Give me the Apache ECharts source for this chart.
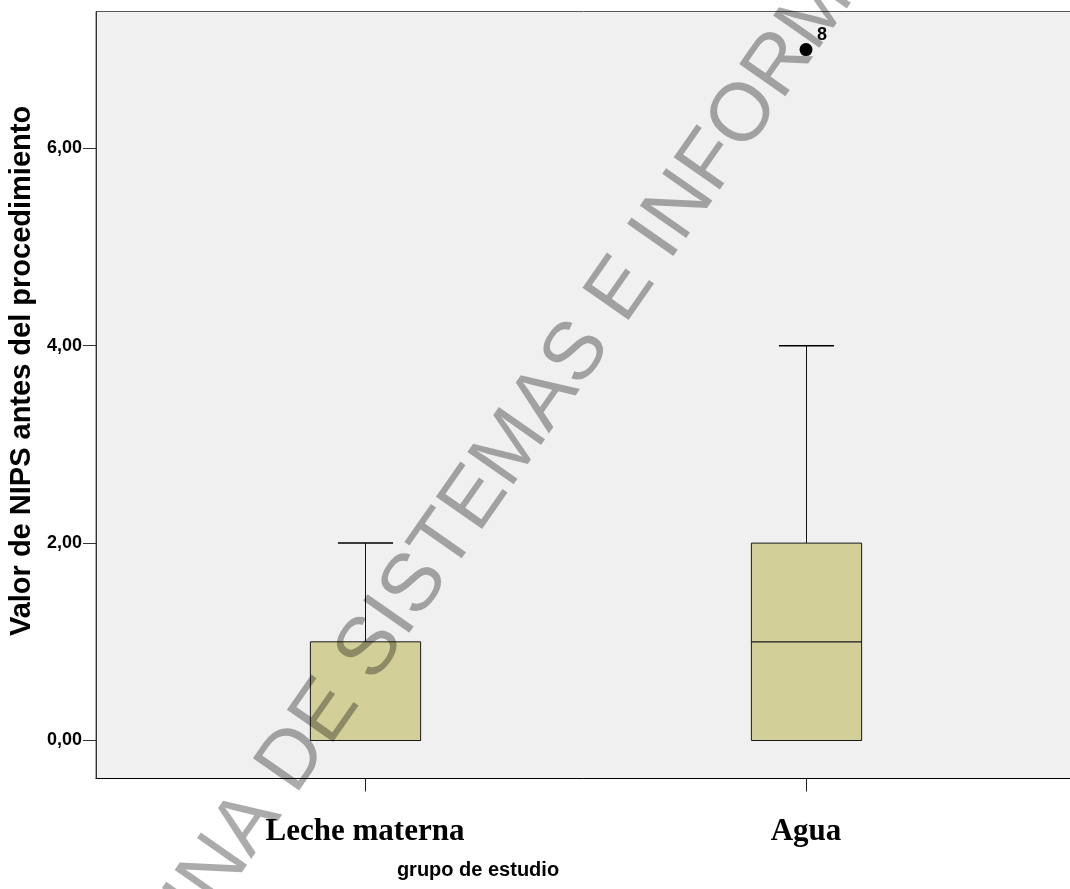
<!DOCTYPE html>
<html>
<head>
<meta charset="utf-8">
<script src="https://cdn.jsdelivr.net/npm/echarts@6/dist/echarts.min.js"></script>
<style>
  html, body { margin: 0; padding: 0; background: #ffffff; }
  #chart { width: 1070px; height: 889px; }
</style>
</head>
<body>
<div id="chart"></div>
<script>
// Study groups and their box-plot summaries (NIPS score before the procedure)
const categories = ['Leche materna', 'Agua'];
const lowWhisker = [0, 0];
const q1 = [0, 0];
const median = [0, 1];
const q3 = [1, 2];
const highWhisker = [2, 4];

// Extreme values plotted individually, with their case number
const outlierGroup = [1];
const outlierValue = [7];
const outlierCase = ['8'];

// Y axis ticks
const yTicks = [0, 2, 4, 6];

const boxRows = categories.map((c, i) => [i, lowWhisker[i], q1[i], median[i], q3[i], highWhisker[i]]);
const outlierRows = outlierGroup.map((g, i) => ({ value: [g, outlierValue[i]], caseId: outlierCase[i] }));

const chart = echarts.init(document.getElementById('chart'), null, { renderer: 'canvas' });

function renderBox(params, api) {
  const x = api.value(0);
  const lo = api.coord([x, api.value(1)]);
  const b1 = api.coord([x, api.value(2)]);
  const md = api.coord([x, api.value(3)]);
  const b3 = api.coord([x, api.value(4)]);
  const hi = api.coord([x, api.value(5)]);
  const w = api.size([0.25, 0])[0];
  const cap = w / 2;
  const cx = Math.round(b1[0]) + 0.5;
  const children = [];
  const lineStyle = { stroke: '#111111', lineWidth: 1 };
  if (hi[1] < b3[1] - 0.5) {
    children.push({ type: 'line', shape: { x1: cx, y1: b3[1], x2: cx, y2: hi[1] }, style: lineStyle });
    children.push({ type: 'line', shape: { x1: cx - cap / 2, y1: hi[1], x2: cx + cap / 2, y2: hi[1] }, style: { stroke: '#000', lineWidth: 1.5 } });
  }
  if (lo[1] > b1[1] + 0.5) {
    children.push({ type: 'line', shape: { x1: cx, y1: b1[1], x2: cx, y2: lo[1] }, style: lineStyle });
    children.push({ type: 'line', shape: { x1: cx - cap / 2, y1: lo[1], x2: cx + cap / 2, y2: lo[1] }, style: { stroke: '#000', lineWidth: 1.5 } });
  }
  children.push({
    type: 'rect',
    shape: { x: cx - w / 2, y: b3[1], width: w, height: b1[1] - b3[1] },
    style: { fill: '#d3cf98', stroke: '#1a1a1a', lineWidth: 1 }
  });
  children.push({ type: 'line', shape: { x1: cx - w / 2, y1: md[1], x2: cx + w / 2, y2: md[1] }, style: { stroke: '#1a1a1a', lineWidth: 1.2 } });
  return { type: 'group', children };
}

const sans = '"Liberation Sans", Arial, sans-serif';
const serif = '"Liberation Serif", "Times New Roman", serif';

chart.setOption({
  animation: false,
  backgroundColor: '#ffffff',
  grid: {
    left: 96, top: 11.5, width: 1000, height: 767,
    outerBoundsMode: 'none',
    show: true, backgroundColor: '#f0f0f0', borderColor: '#5a5a5a', borderWidth: 1,
    containLabel: false
  },
  xAxis: {
    type: 'value',
    min: -0.61, max: 1.6576,
    splitLine: { show: false },
    axisLine: { show: true, onZero: false, lineStyle: { color: '#000', width: 1 } },
    axisTick: { show: true, customValues: [0, 1], length: 13, lineStyle: { color: '#222' } },
    axisLabel: {
      show: true, customValues: [0, 1], margin: 38,
      formatter: v => categories[Math.round(v)] || '',
      fontFamily: serif, fontWeight: 'bold', fontSize: 31, color: '#000'
    }
  },
  yAxis: {
    type: 'value',
    min: -0.385, max: 7.386,
    splitLine: { show: false },
    axisLine: { show: true, onZero: false, lineStyle: { color: '#333', width: 1 } },
    axisTick: { show: true, customValues: yTicks, length: 13, lineStyle: { color: '#333' } },
    axisLabel: {
      show: true, customValues: yTicks, margin: 14,
      formatter: v => v.toFixed(2).replace('.', ','),
      fontFamily: sans, fontWeight: 'bold', fontSize: 18, color: '#000'
    }
  },
  series: [
    {
      type: 'custom',
      renderItem: renderBox,
      data: boxRows,
      encode: { x: 0, y: [1, 2, 3, 4, 5] },
      z: 2
    },
    {
      type: 'scatter',
      data: outlierRows,
      symbol: 'circle',
      symbolSize: 13,
      itemStyle: { color: '#000', opacity: 1 },
      label: {
        show: true,
        position: 'inside',
        offset: [16, -15],
        formatter: p => p.data.caseId,
        fontFamily: sans, fontWeight: 'bold', fontSize: 18, color: '#000'
      },
      z: 3
    }
  ],
  graphic: [
    {
      type: 'text', x: 22, y: 371, rotation: Math.PI / 2,
      style: {
        text: 'Valor de NIPS antes del procedimiento',
        font: 'bold 29px ' + sans, fill: '#000',
        textAlign: 'center', textVerticalAlign: 'middle'
      }
    },
    {
      type: 'text', x: 478, y: 870,
      style: {
        text: 'grupo de estudio',
        font: 'bold 20px ' + sans, fill: '#000',
        textAlign: 'center', textVerticalAlign: 'middle'
      }
    },
    {
      type: 'text', x: 73, y: 1074, rotation: 55 * Math.PI / 180, z: 100,
      silent: true,
      style: {
        text: 'OFICINA DE SISTEMAS E INFORMATICA',
        font: '82px ' + sans, fill: 'rgba(0,0,0,0.33)',
        textAlign: 'left', textVerticalAlign: 'middle'
      }
    }
  ]
});
</script>
</body>
</html>
